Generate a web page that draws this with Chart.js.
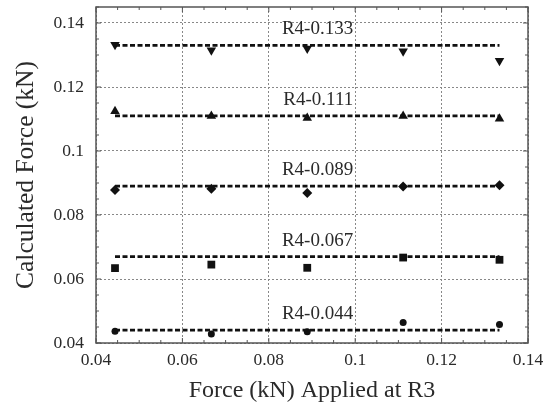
<!DOCTYPE html>
<html lang="en">
<head>
    <meta charset="UTF-8">
    <title>Calculated Force vs Applied Force</title>
    <script src="https://cdn.jsdelivr.net/npm/chart.js"></script>
    <style>
        body { margin: 0; background: #ffffff; }
        #wrap { width: 553px; height: 411px; }
    </style>
</head>
<body>
    <div id="wrap"><canvas id="forceChart" width="553" height="411"></canvas></div>

    <script>
        // Applied force at R3 (kN), same for every series
        const appliedForce = [0.0444, 0.0667, 0.0889, 0.1111, 0.1334];

        // R4 reference loads (dashed lines) and their labels
        const r4Loads = [0.133, 0.111, 0.089, 0.067, 0.044];
        const r4Labels = ['R4-0.133', 'R4-0.111', 'R4-0.089', 'R4-0.067', 'R4-0.044'];

        // Calculated force (kN) for each R4 load
        const calc133 = [0.1332, 0.1315, 0.1320, 0.1312, 0.1282];
        const calc111 = [0.1124, 0.1109, 0.1103, 0.1109, 0.1101];
        const calc089 = [0.0878, 0.0882, 0.0869, 0.0889, 0.0893];
        const calc067 = [0.0634, 0.0645, 0.0635, 0.0667, 0.0660];
        const calc044 = [0.0437, 0.0428, 0.0435, 0.0464, 0.0458];

        const xTicks = [0.04, 0.06, 0.08, 0.1, 0.12, 0.14];
        const yTicks = [0.04, 0.06, 0.08, 0.1, 0.12, 0.14];

        const serif = "'Liberation Serif', 'Times New Roman', serif";
        const textColor = '#2a2a2a';

        const calcSeries = [calc133, calc111, calc089, calc067, calc044];
        const markers = [
            { style: 'triangle', rotation: 180, radius: 5.5 },
            { style: 'triangle', rotation: 0, radius: 5.5 },
            { style: 'rectRot', rotation: 0, radius: 5 },
            { style: 'rect', rotation: 0, radius: 5.5 },
            { style: 'circle', rotation: 0, radius: 3.5 }
        ];

        const datasets = [];
        r4Loads.forEach((load, i) => {
            datasets.push({
                type: 'line',
                label: r4Labels[i] + ' line',
                data: [
                    { x: appliedForce[0], y: load },
                    { x: appliedForce[appliedForce.length - 1], y: load }
                ],
                borderColor: '#111111',
                borderWidth: 2.7,
                borderDash: [5, 2.5],
                pointRadius: 0,
                fill: false
            });
        });
        calcSeries.forEach((vals, i) => {
            datasets.push({
                type: 'scatter',
                label: r4Labels[i],
                data: appliedForce.map((x, j) => ({ x: x, y: vals[j] })),
                pointStyle: markers[i].style,
                rotation: markers[i].rotation,
                pointRadius: markers[i].radius,
                backgroundColor: '#111111',
                borderColor: '#111111',
                borderWidth: 0
            });
        });

        // frame, inward ticks on all four sides, and the R4 labels
        const framePlugin = {
            id: 'framePlugin',
            afterDraw(chart) {
                const ctx = chart.ctx;
                const a = chart.chartArea;
                const xs = chart.scales.x;
                const ys = chart.scales.y;
                ctx.save();

                ctx.strokeStyle = '#555555';
                ctx.lineWidth = 1;
                for (let v = 0.04; v <= 0.14 + 1e-9; v += 0.005) {
                    const major = Math.abs(v * 50 - Math.round(v * 50)) < 1e-6;
                    const len = major ? 5 : 3;
                    const px = xs.getPixelForValue(v);
                    ctx.beginPath();
                    ctx.moveTo(px, a.bottom); ctx.lineTo(px, a.bottom - len);
                    ctx.moveTo(px, a.top); ctx.lineTo(px, a.top + len);
                    ctx.stroke();
                }
                for (let v = 0.04; v <= 0.145 + 1e-9; v += 0.005) {
                    const major = Math.abs(v * 50 - Math.round(v * 50)) < 1e-6;
                    const len = major ? 5 : 3;
                    const py = ys.getPixelForValue(v);
                    ctx.beginPath();
                    ctx.moveTo(a.left, py); ctx.lineTo(a.left + len, py);
                    ctx.moveTo(a.right, py); ctx.lineTo(a.right - len, py);
                    ctx.stroke();
                }

                ctx.lineWidth = 1.5;
                ctx.strokeStyle = '#555555';
                ctx.strokeRect(a.left, a.top, a.right - a.left, a.bottom - a.top);

                ctx.fillStyle = textColor;
                ctx.font = '19px ' + serif;
                ctx.textAlign = 'right';
                ctx.textBaseline = 'alphabetic';
                const lx = xs.getPixelForValue(0.1) - 2;
                r4Loads.forEach((load, i) => {
                    ctx.fillText(r4Labels[i], lx, ys.getPixelForValue(load) - 11);
                });
                ctx.restore();
            }
        };

        new Chart(document.getElementById('forceChart'), {
            data: { datasets: datasets },
            options: {
                responsive: false,
                animation: false,
                layout: { padding: { left: 0, top: 7, right: 25, bottom: 0 } },
                plugins: {
                    legend: { display: false },
                    tooltip: { enabled: false }
                },
                scales: {
                    x: {
                        type: 'linear',
                        min: 0.04,
                        max: 0.14,
                        afterFit(scale) { scale.height = 68; },
                        afterBuildTicks(scale) { scale.ticks = xTicks.map(v => ({ value: v })); },
                        grid: {
                            color: '#888888',
                            lineWidth: 1,
                            drawTicks: false
                        },
                        border: { display: false, dash: [2, 2] },
                        ticks: {
                            color: textColor,
                            font: { family: serif, size: 17.5 },
                            padding: 7,
                            maxRotation: 0,
                            callback: v => String(Number(v.toFixed(3)))
                        },
                        title: {
                            display: true,
                            text: 'Force (kN) Applied at R3',
                            color: textColor,
                            font: { family: serif, size: 24 },
                            padding: { top: 0, bottom: 6 }
                        }
                    },
                    y: {
                        type: 'linear',
                        min: 0.04,
                        max: 0.145,
                        afterFit(scale) {
                            scale.width = 96;
                            scale.paddingTop = 0;
                            scale.paddingBottom = 0;
                        },
                        afterBuildTicks(scale) { scale.ticks = yTicks.map(v => ({ value: v })); },
                        grid: {
                            color: '#888888',
                            lineWidth: 1,
                            drawTicks: false
                        },
                        border: { display: false, dash: [2, 2] },
                        ticks: {
                            color: textColor,
                            font: { family: serif, size: 17.5 },
                            padding: 12,
                            callback: v => String(Number(v.toFixed(3)))
                        },
                        title: {
                            display: true,
                            text: 'Calculated Force (kN)',
                            color: textColor,
                            font: { family: serif, size: 25.5 },
                            padding: { top: 11, bottom: 0 }
                        }
                    }
                }
            },
            plugins: [framePlugin]
        });
    </script>
</body>
</html>
